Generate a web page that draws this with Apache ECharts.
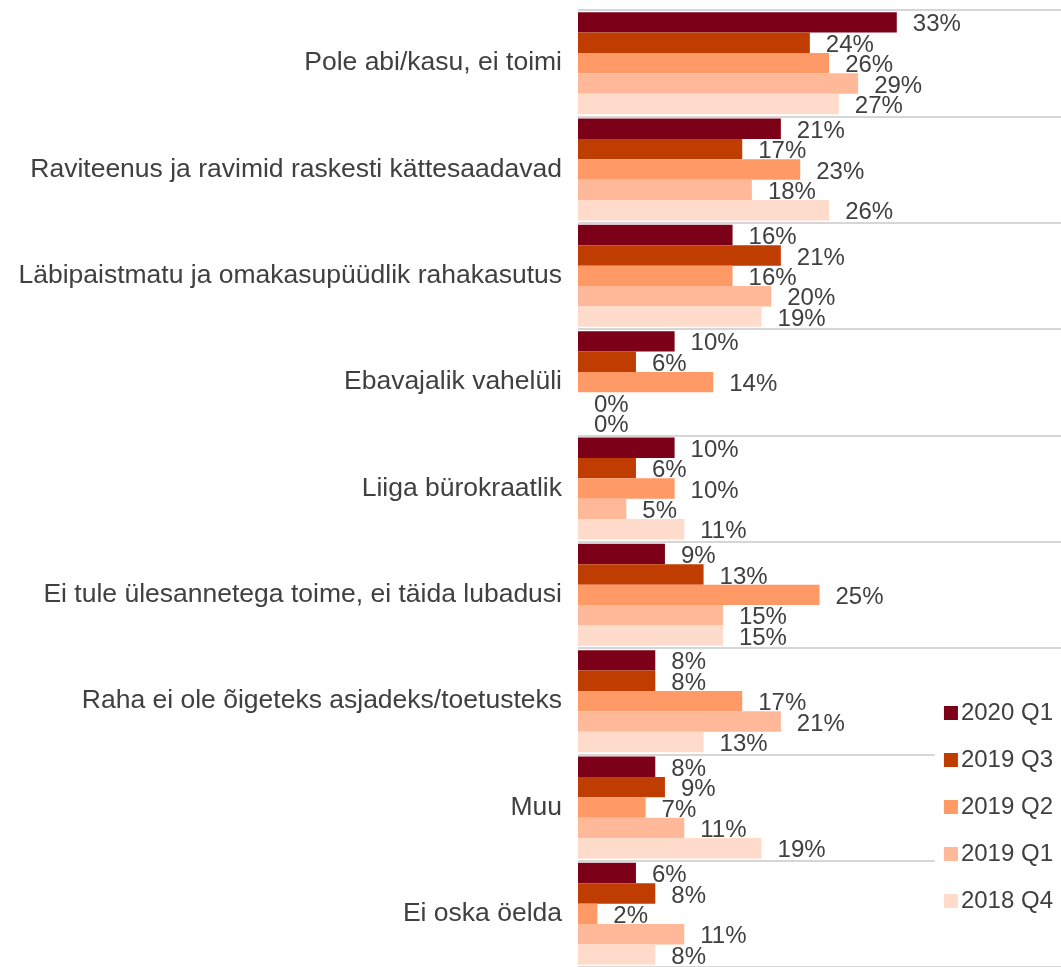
<!DOCTYPE html>
<html>
<head>
<meta charset="utf-8">
<script src="https://cdn.jsdelivr.net/npm/echarts@6/dist/echarts.min.js"></script>
<style>
html,body{margin:0;padding:0;background:#fff;}
#chart{width:1061px;height:967px;}
</style>
</head>
<body>
<div id="chart"></div>
<script>
const categories = [
  "Pole abi/kasu, ei toimi",
  "Raviteenus ja ravimid raskesti kättesaadavad",
  "Läbipaistmatu ja omakasupüüdlik rahakasutus",
  "Ebavajalik vahelüli",
  "Liiga bürokraatlik",
  "Ei tule ülesannetega toime, ei täida lubadusi",
  "Raha ei ole õigeteks asjadeks/toetusteks",
  "Muu",
  "Ei oska öelda"
];
const seriesNames = ["2020 Q1", "2019 Q3", "2019 Q2", "2019 Q1", "2018 Q4"];
const s2020Q1 = [33, 21, 16, 10, 10, 9, 8, 8, 6];
const s2019Q3 = [24, 17, 21, 6, 6, 13, 8, 9, 8];
const s2019Q2 = [26, 23, 16, 14, 10, 25, 17, 7, 2];
const s2019Q1 = [29, 18, 20, 0, 5, 15, 21, 11, 11];
const s2018Q4 = [27, 26, 19, 0, 11, 15, 13, 19, 8];
const seriesValues = [s2020Q1, s2019Q3, s2019Q2, s2019Q1, s2018Q4];
const colors = ["#7B0018", "#BF3D00", "#FF9966", "#FFB898", "#FFDBCC"];

const FONT = "Liberation Sans, Arial, sans-serif";
const TXT = "#404040";

const chart = echarts.init(document.getElementById('chart'), null, {renderer: 'canvas'});
chart.setOption({
  animation: false,
  backgroundColor: '#fff',
  grid: {left: 578, right: 0, top: 10, height: 960, containLabel: false},
  xAxis: {
    type: 'value', min: 0, max: 50, show: false
  },
  yAxis: {
    type: 'category', data: categories, inverse: true,
    axisLine: {show: false},
    axisTick: {show: false},
    axisLabel: {color: TXT, fontFamily: FONT, fontSize: 26.5, margin: 16, padding: [4, 0, 0, 0]},
    splitLine: {show: true, lineStyle: {color: '#C8C8C8', width: 1.5}}
  },
  legend: {
    orient: 'vertical', right: 0, top: 695,
    backgroundColor: '#fff',
    padding: [6, 8, 6, 9],
    itemWidth: 14, itemHeight: 14, itemGap: 23,
    icon: 'rect',
    data: seriesNames,
    textStyle: {color: TXT, fontFamily: FONT, fontSize: 24, padding: [0, 0, 0, -2]}
  },
  series: seriesNames.map((name, i) => ({
    name: name, type: 'bar',
    data: seriesValues[i],
    barGap: '0%', barCategoryGap: '4%',
    itemStyle: {color: colors[i]},
    label: {
      show: true, position: 'right', distance: 16, offset: [0, 2.5],
      formatter: p => p.value + '%',
      color: TXT, fontFamily: FONT, fontSize: 24
    }
  }))
});
</script>
</body>
</html>
